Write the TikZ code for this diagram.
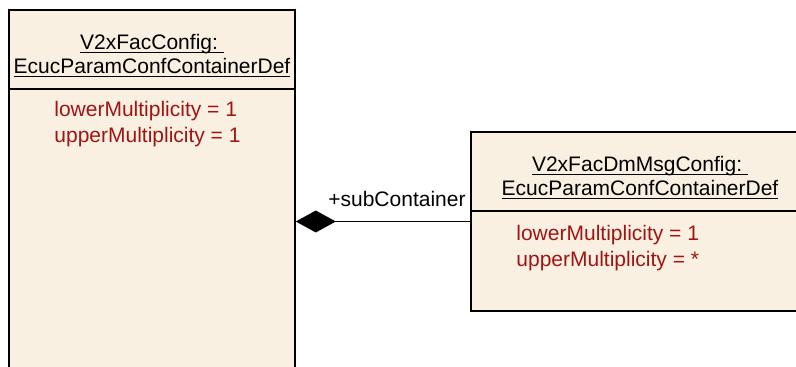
\documentclass[tikz,border=0pt]{standalone}
\usepackage{fontspec}
\setmainfont{Liberation Sans}
\usetikzlibrary{arrows.meta,positioning}
\definecolor{umlfill}{RGB}{250,240,226}
\definecolor{umlred}{RGB}{160,20,20}
\newcommand{\umlul}[1]{\underline{\smash{#1}}}
\tikzset{
  classbox/.style={draw=black, line width=0.8pt, fill=umlfill, rectangle, inner sep=0pt},
  classname/.style={anchor=base, inner sep=0pt, font=\fontsize{10.5}{13}\selectfont},
  attr/.style={anchor=base west, inner sep=0pt, text=umlred, font=\fontsize{10.5}{13}\selectfont},
  sep/.style={line width=0.8pt},
  composition/.style={line width=0.8pt, {Diamond[length=20pt,width=11pt]}-},
}

\begin{document}
\begin{tikzpicture}[x=0.5pt,y=-0.5pt]
\useasboundingbox (0,0) rectangle (796,367);
\clip (0,0) rectangle (796,367);

% the container that owns the sub container
\node[classbox, minimum width=143pt, minimum height=195pt] (fac) at (152,205) {};
\node[classname] (factitle) at (152,50) {\umlul{V2xFacConfig:\ }};
\node[classname] (factype) at (152,74) {\umlul{EcucParamConfContainerDef}};
\coordinate (facsep) at (0,89);
\draw[sep] (fac.west |- facsep) -- (fac.east |- facsep);
\node[attr] (faclower) at (54,117) {lowerMultiplicity = 1};
\node[attr] (facupper) at (54,143) {upperMultiplicity = 1};

% the sub container
\node[classbox, minimum width=169pt, minimum height=89.5pt] (dm) at (640,221.5) {};
\node[classname] (dmtitle) at (640,172) {\umlul{V2xFacDmMsgConfig:\ }};
\node[classname] (dmtype) at (640,196) {\umlul{EcucParamConfContainerDef}};
\coordinate (dmsep) at (0,211);
\draw[sep] (dm.west |- dmsep) -- (dm.east |- dmsep);
\node[attr] (dmlower) at (516,241) {lowerMultiplicity = 1};
\node[attr] (dmupper) at (516,267) {upperMultiplicity = *};

% composition
\draw[composition] (fac.east |- dm.west) -- (dm.west)
  node[pos=0.58, anchor=base, yshift=7.5pt, inner sep=0pt, font=\fontsize{10.5}{13}\selectfont] (role) {+subContainer};
\end{tikzpicture}
\end{document}
